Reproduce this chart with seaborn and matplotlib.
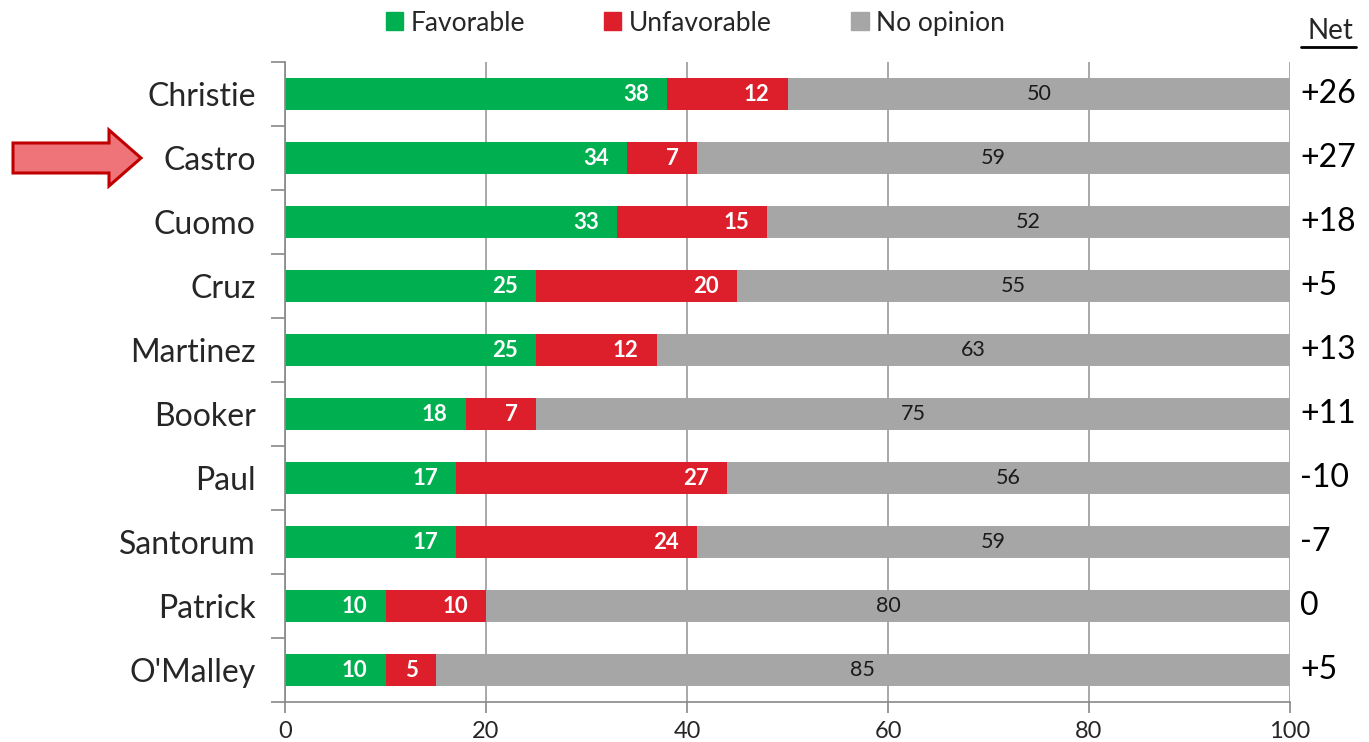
import matplotlib
matplotlib.use("Agg")
import matplotlib.pyplot as plt
import seaborn as sns
import pandas as pd
from matplotlib.patches import FancyArrow, Patch

# datos
candidates = ["Christie", "Castro", "Cuomo", "Cruz", "Martinez",
              "Booker", "Paul", "Santorum", "Patrick", "O'Malley"]
favorable = [38, 34, 33, 25, 25, 18, 17, 17, 10, 10]
unfavorable = [12, 7, 15, 20, 12, 7, 27, 24, 10, 5]
no_opinion = [50, 59, 52, 55, 63, 75, 56, 59, 80, 85]
net_labels = ["+26", "+27", "+18", "+5", "+13", "+11", "-10", "-7", "0", "+5"]

GREEN = "#00B050"
RED = "#DC1F2A"
GRAY = "#A6A6A6"

sns.set_theme(style="white")
plt.rcParams["font.family"] = ["Lato", "DejaVu Sans"]

df = pd.DataFrame({"name": candidates, "fav": favorable,
                   "unf": unfavorable, "none": no_opinion})
df["c_unf"] = df["fav"] + df["unf"]
df["c_all"] = df["c_unf"] + df["none"]

fig = plt.figure(figsize=(13.69, 7.42), dpi=100)
ax = fig.add_axes([0.2082, 0.0539, 0.9423 - 0.2082, 0.9164 - 0.0539])

# barras acumuladas: gris al fondo, luego rojo, luego verde
for col, c in [("c_all", GRAY), ("c_unf", RED), ("fav", GREEN)]:
    sns.barplot(data=df, y="name", x=col, color=c, width=0.5, orient="h",
                ax=ax, saturation=1, linewidth=0, zorder=2)

ax.set_xlim(0, 100)
ax.set_ylim(len(candidates) - 0.5, -0.5)
ax.set_xlabel("")
ax.set_ylabel("")
ax.set_xticks([0, 20, 40, 60, 80, 100])
ax.tick_params(axis="x", labelsize=17, length=8, width=1.2, color="#888888",
               direction="out", bottom=True, pad=6)
ax.tick_params(axis="y", labelsize=23, length=0, pad=21)
ax.set_yticks(range(len(candidates)))
ax.set_yticklabels(candidates)
ax.set_yticks([i + 0.5 for i in range(-1, len(candidates))], minor=True)
ax.tick_params(axis="y", which="minor", length=10, width=1.2,
               color="#888888", direction="out", left=True)
ax.grid(axis="x", color="#999999", linewidth=1.2, zorder=0)
ax.set_axisbelow(True)
for s in ["top", "right"]:
    ax.spines[s].set_visible(False)
for s in ["left", "bottom"]:
    ax.spines[s].set_color("#888888")
    ax.spines[s].set_linewidth(1.2)

# etiquetas dentro de las barras
for i in range(len(candidates)):
    f, u, n = favorable[i], unfavorable[i], no_opinion[i]
    ax.text(f - 1.8, i, str(f), ha="right", va="center", color="white",
            fontsize=16, fontweight="bold", zorder=5)
    ax.text(f + u - 1.8, i, str(u), ha="right", va="center", color="white",
            fontsize=16, fontweight="bold", zorder=5)
    ax.text(f + u + n / 2, i, str(n), ha="center", va="center",
            color="#1a1a1a", fontsize=15.5, zorder=5)
    ax.text(101.0, i, net_labels[i], ha="left", va="center",
            fontsize=23, color="black", clip_on=False)

fig.text(0.9715, 0.958, "Net", ha="center", va="center", fontsize=20)
fig.add_artist(plt.Line2D([0.950, 0.9905], [0.937, 0.937],
                          color="black", linewidth=2,
                          transform=fig.transFigure))

# leyenda
handles = [Patch(color=GREEN, label="Favorable"),
           Patch(color=RED, label="Unfavorable"),
           Patch(color=GRAY, label="No opinion")]
fig.legend(handles=handles, loc="center", bbox_to_anchor=(0.508, 0.969),
           ncol=3, frameon=False, fontsize=19, handlelength=0.65,
           handleheight=0.65, handletextpad=0.3, columnspacing=3.0)

# flecha hacia Castro
arrow = FancyArrow(13 / 1369, 1 - 158 / 742, (141 - 13) / 1369, 0,
                   width=30 / 742, head_width=56 / 742,
                   head_length=32 / 1369, length_includes_head=True,
                   facecolor="#EF7479", edgecolor="#C00000", linewidth=2.2,
                   transform=fig.transFigure)
fig.add_artist(arrow)

fig.savefig("out.png", dpi=100)
